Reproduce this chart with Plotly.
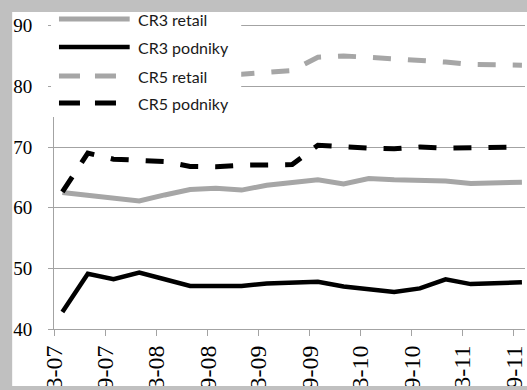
import plotly.graph_objects as go

# Quarter-end observation dates
quarters = [
    "2007-03-31", "2007-06-30", "2007-09-30", "2007-12-31",
    "2008-03-31", "2008-06-30", "2008-09-30", "2008-12-31",
    "2009-03-31", "2009-06-30", "2009-09-30", "2009-12-31",
    "2010-03-31", "2010-06-30", "2010-09-30", "2010-12-31",
    "2011-03-31", "2011-06-30", "2011-09-30",
]

# Concentration ratios (%)
cr3_retail = [62.5, 62.0, 61.5, 61.1, 62.1, 63.0, 63.2, 62.9, 63.7, 64.2,
              64.6, 63.9, 64.8, 64.6, 64.5, 64.4, 64.0, 64.2, 64.2]
cr3_podniky = [42.8, 49.1, 48.2, 49.3, 48.2, 47.1, 47.1, 47.1, 47.5, 47.6,
               47.8, 47.0, 46.6, 46.1, 46.7, 48.2, 47.4, 47.5, 47.7]
cr5_retail = [81.5, 81.2, 80.9, 80.6, 81.3, 82.0, 82.2, 82.0, 82.3, 82.6,
              84.8, 85.0, 84.8, 84.6, 84.4, 84.0, 83.6, 83.5, 83.5]
cr5_podniky = [62.6, 69.0, 68.0, 67.9, 67.6, 66.8, 66.75, 67.0, 67.0, 67.1,
               70.3, 70.0, 69.8, 69.7, 70.0, 69.8, 69.8, 70.0, 70.0]

# Axis ticks: every six months
tick_dates = ["2007-03-01", "2007-09-01", "2008-03-01", "2008-09-01", "2009-03-01",
              "2009-09-01", "2010-03-01", "2010-09-01", "2011-03-01", "2011-09-01"]
tick_labels = ["3-07", "9-07", "3-08", "9-08", "3-09",
               "9-09", "3-10", "9-10", "3-11", "9-11"]
y_ticks = [40, 50, 60, 70, 80, 90]

series_names = ["CR3 retail", "CR3 podniky", "CR5 retail", "CR5 podniky"]
series_values = [cr3_retail, cr3_podniky, cr5_retail, cr5_podniky]
series_colors = ["#a6a6a6", "#000000", "#a6a6a6", "#000000"]
series_widths = [5, 4.5, 5, 5]
series_dash = ["solid", "solid", "18px,17px", "18px,17px"]

W, H = 527, 390
ML, MR, MT, MB = 54, 0, 12, 61
PW, PH = W - ML - MR, H - MT - MB
PX_PER_UNIT = 6.066
GRAY_BG = "#c0c0c0"
GRID = "#a3a3a3"


def px(x):
    return (x - ML) / PW


def py(y):
    return (H - MB - y) / PH


fig = go.Figure()
for name, vals, col, wd, dash in zip(series_names, series_values, series_colors,
                                     series_widths, series_dash):
    fig.add_trace(go.Scatter(
        x=quarters, y=vals, mode="lines", name=name,
        line=dict(color=col, width=wd, dash=dash),
        showlegend=False, hoverinfo="skip",
    ))

shapes = []
# frame strips around the white chart area
shapes.append(dict(type="rect", xref="paper", yref="paper", layer="above",
                   x0=px(-5), x1=px(12), y0=py(400), y1=py(-5),
                   fillcolor=GRAY_BG, line=dict(width=0)))
shapes.append(dict(type="rect", xref="paper", yref="paper", layer="above",
                   x0=px(-5), x1=px(540), y0=py(12), y1=py(-5),
                   fillcolor=GRAY_BG, line=dict(width=0)))
shapes.append(dict(type="rect", xref="paper", yref="paper", layer="above",
                   x0=px(-5), x1=px(540), y0=py(400), y1=py(386),
                   fillcolor=GRAY_BG, line=dict(width=0)))
# legend box
shapes.append(dict(type="rect", xref="paper", yref="paper", layer="above",
                   x0=px(51), x1=px(242), y0=py(117), y1=py(12),
                   fillcolor="white", line=dict(width=0)))

legend_rows = [19, 47, 76, 103]
legend_dash = ["solid", "solid", "21px,15px", "21px,15px"]
annotations = []
for name, col, wd, dash, ry in zip(series_names, series_colors, series_widths,
                                   legend_dash, legend_rows):
    shapes.append(dict(type="line", xref="paper", yref="paper", layer="above",
                       x0=px(59), x1=px(130), y0=py(ry), y1=py(ry),
                       line=dict(color=col, width=wd, dash=dash)))
    annotations.append(dict(xref="paper", yref="paper", x=px(136), y=py(ry + 1),
                            xanchor="left", yanchor="middle", showarrow=False,
                            text=name, font=dict(family="Lato", size=16, color="#1a1a1a")))

fig.update_layout(
    width=W, height=H,
    margin=dict(l=ML, r=MR, t=MT, b=MB, pad=0),
    paper_bgcolor="white", plot_bgcolor="white",
    shapes=shapes, annotations=annotations,
    xaxis=dict(
        type="date", range=["2007-03-01", "2011-10-11"],
        tickmode="array", tickvals=tick_dates, ticktext=tick_labels,
        tickangle=-90, ticks="outside", ticklen=6, tickcolor=GRID,
        ticklabeloverflow="allow",
        showgrid=False, showline=True, linecolor=GRID, linewidth=1,
        tickfont=dict(family="Liberation Serif", size=24, color="black"),
        fixedrange=True,
    ),
    yaxis=dict(
        range=[40, 40 + PH / PX_PER_UNIT * 10 / 10],
        tickmode="array", tickvals=y_ticks,
        ticks="outside", ticklen=5, tickcolor=GRID,
        showgrid=True, gridcolor=GRID, gridwidth=1,
        showline=True, linecolor=GRID, linewidth=1,
        zeroline=False, ticklabelstandoff=12,
        tickfont=dict(family="Liberation Serif", size=19, color="black"),
        fixedrange=True,
    ),
)

fig.write_html("out.html")
